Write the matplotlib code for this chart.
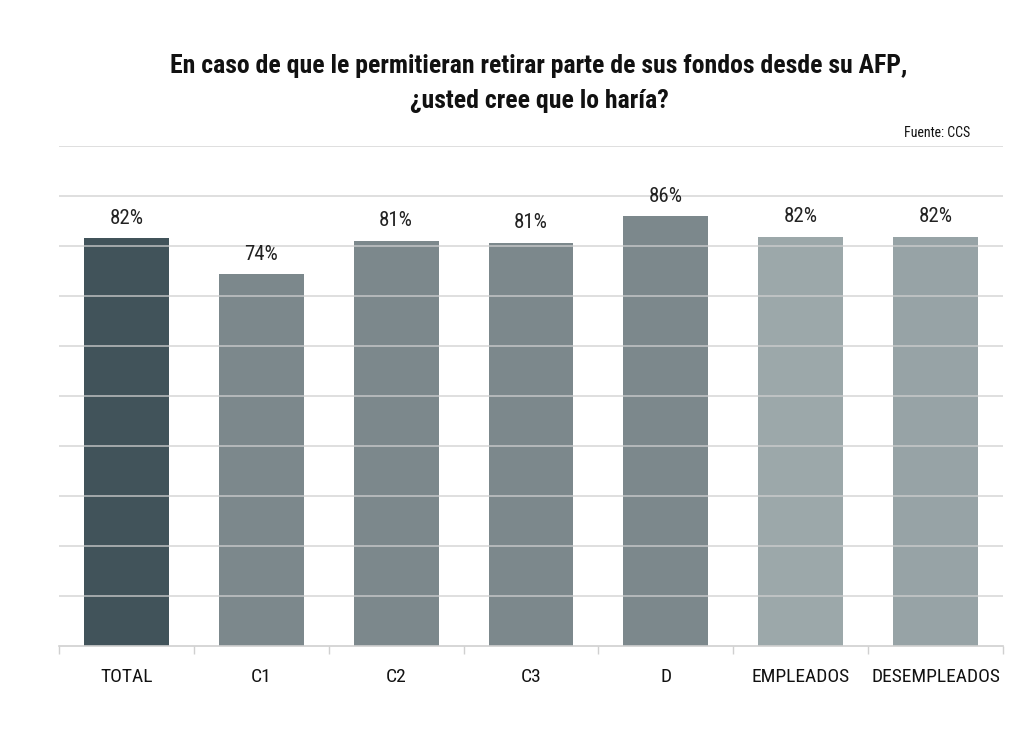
import matplotlib
matplotlib.use("Agg")
import matplotlib.pyplot as plt
import numpy as np
from matplotlib import font_manager

# Data
categories = ['TOTAL', 'C1', 'C2', 'C3', 'D', 'EMPLEADOS', 'DESEMPLEADOS']
values     = [81.6, 74.4, 81.0, 80.6, 86.0, 81.8, 81.8]
labels     = ['82%', '74%', '81%', '81%', '86%', '82%', '82%']
colors     = ['#41535a', '#7c888c', '#7c888c', '#7c888c', '#7c888c', '#9ca8aa', '#97a3a6']

installed = {f.name for f in font_manager.fontManager.ttflist}
family = 'DejaVu Sans'
for cand in ['Liberation Sans Narrow', 'Roboto Condensed', 'Open Sans Condensed', 'Roboto']:
    if cand in installed:
        family = cand
        break
plt.rcParams['font.family'] = family

fig = plt.figure(figsize=(10.24, 7.42), dpi=100)
ax = fig.add_axes([59/1024, 1-646/742, (1003-59)/1024, (646-146)/742])

x = np.arange(len(categories))
ax.bar(x, values, width=0.63, color=colors, zorder=1)
for xi, v, lab in zip(x, values, labels):
    ax.text(xi, v + 4.0, lab, ha='center', va='center', fontsize=15, color='#222222')

ax.set_xlim(-0.5, len(categories) - 0.5)
ax.set_ylim(0, 100)
ax.set_yticks(np.arange(10, 101, 10))
ax.set_yticklabels([])
ax.yaxis.grid(True, color='#d0d0d0', linewidth=1.2, alpha=0.8, zorder=2)
ax.set_axisbelow(False)
ax.tick_params(axis='y', length=0)

ax.set_xticks(x)
ax.set_xticklabels(categories, fontsize=14, color='#111111')
ax.tick_params(axis='x', length=0, pad=16)
ax.set_xticks(np.arange(-0.5, len(categories), 1), minor=True)
ax.tick_params(axis='x', which='minor', length=6, color='#d0d0d0', width=1)

for s in ['top', 'right', 'left']:
    ax.spines[s].set_visible(False)
ax.spines['bottom'].set_color('#d0d0d0')
ax.spines['bottom'].set_linewidth(1.2)

fig.text(539/1024, 1-66/742, 'En caso de que le permitieran retirar parte de sus fondos desde su AFP,',
         ha='center', va='center', fontsize=18.5, fontweight='bold', color='#111111')
fig.text(539/1024, 1-101/742, '¿usted cree que lo haría?',
         ha='center', va='center', fontsize=18.5, fontweight='bold', color='#111111')
fig.text(970/1024, 1-133/742, 'Fuente: CCS', ha='right', va='center', fontsize=10, color='#111111')

fig.savefig('out.png', dpi=100)
